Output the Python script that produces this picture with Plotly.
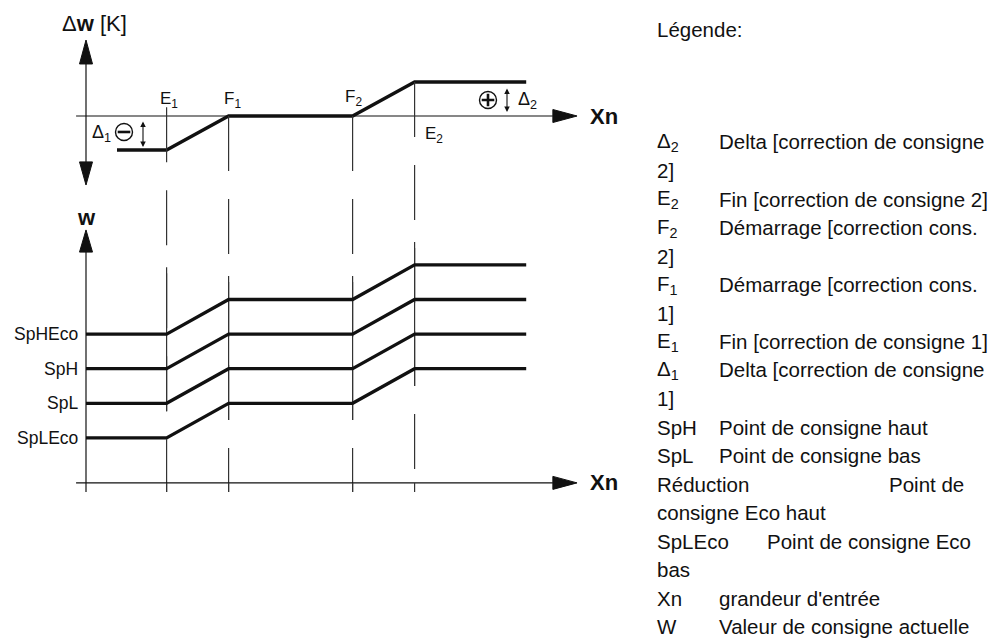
"""
Setpoint correction diagram (Δw / w versus Xn) with French legend.
"""

import plotly.graph_objects as go

# ── Data ──────────────────────────────────────────────────────────────────────

# characteristic points on the Xn axis
XN_E1, XN_F1, XN_F2, XN_E2 = 1.3, 2.3, 4.3, 5.3
XN_START_DW = 0.5     # where the Δw curve starts
XN_END = 7.1          # where all curves stop

# Δw correction curve (upper diagram)
dw_x = [XN_START_DW, XN_E1, XN_F1, XN_F2, XN_E2, XN_END]
dw_y = [-1, -1, 0, 0, 1, 1]

# setpoint curves (lower diagram): base level, +1 after F1, +2 after E2
sp_names = ["SpHEco", "SpH", "SpL", "SpLEco"]
sp_levels = [4, 3, 2, 1]
sp_x = [0, XN_E1, XN_F1, XN_F2, XN_E2, XN_END]
sp_offsets = [0, 0, 1, 1, 2, 2]

# vertical guide lines and their top end (Δw units)
guide_x = [XN_E1, XN_F1, XN_F2, XN_E2]
guide_top_dw = [0.26, 0, 0, 1.0]
guide_labels = ["E<sub>1</sub>", "F<sub>1</sub>", "F<sub>2</sub>", "E<sub>2</sub>"]

# legend text
legend_keys = [
    "Δ<sub>2</sub>", "2]", "E<sub>2</sub>", "F<sub>2</sub>", "2]",
    "F<sub>1</sub>", "1]", "E<sub>1</sub>", "Δ<sub>1</sub>", "1]",
    "SpH", "SpL", "Réduction", "consigne Eco haut", "SpLEco", "bas",
    "Xn", "W",
]
legend_desc = [
    "Delta [correction de consigne", "", "Fin [correction de consigne 2]",
    "Démarrage [correction cons.", "", "Démarrage [correction cons.", "",
    "Fin [correction de consigne 1]", "Delta [correction de consigne", "",
    "Point de consigne haut", "Point de consigne bas", "Point de", "",
    "Point de consigne Eco", "", "grandeur d'entrée",
    "Valeur de consigne actuelle",
]

# ── Geometry of the canvas ────────────────────────────────────────────────────

W_PX, H_PX = 1001, 641
X0_PX, PX_PER_XN = 86, 62
DW0_PX, PX_PER_DW = 116, 34
W0_PX, PX_PER_W = 472.5, 34.6

FONT = "Liberation Sans, Arial, sans-serif"
INK = "#111111"
THIN = "#333333"


def px_x(p):
    return (p - X0_PX) / PX_PER_XN


def dw_to_w(d):
    """Express a Δw value in lower-diagram (w) units."""
    return (W0_PX - (DW0_PX - PX_PER_DW * d)) / PX_PER_W


W_AXIS = -0.3           # level of the lower Xn axis
W_TICK = W_AXIS - 0.26  # bottom of the small ticks
AX_LEFT = -0.16
AX_ARROW_BASE, AX_ARROW_TIP = 7.53, 7.92

fig = go.Figure()


def line(x, y, width=1.2, color=THIN, yaxis="y", dash=None):
    fig.add_trace(go.Scatter(
        x=x, y=y, mode="lines", yaxis=yaxis, hoverinfo="skip",
        line=dict(color=color, width=width, dash=dash),
    ))


def tri(x, y, yaxis="y"):
    fig.add_trace(go.Scatter(
        x=x + [x[0]], y=y + [y[0]], mode="lines", fill="toself",
        fillcolor=INK, yaxis=yaxis, hoverinfo="skip",
        line=dict(color=INK, width=1),
    ))


# ── Guide lines (drawn first, under everything) ──────────────────────────────

for gx, top in zip(guide_x, guide_top_dw):
    top_w = dw_to_w(top)
    line([gx, gx], [top_w, W_TICK], yaxis="y2", dash="55px,28px")
    # third gap is filled in the original drawing
    line([gx, gx], [top_w - 160 / PX_PER_W, top_w - 304 / PX_PER_W], yaxis="y2")

# ── Upper diagram: Δw axis ────────────────────────────────────────────────────

hw = 6.5 / PX_PER_XN
line([0, 0], [2.1, -1.9], color=INK)
tri([-hw, hw, 0], [1.53, 1.53, 2.235])
tri([-hw, hw, 0], [-1.35, -1.35, -2.03])
line([AX_LEFT, AX_ARROW_BASE], [0, 0], color=INK)
hh = 6.5 / PX_PER_DW
tri([AX_ARROW_BASE, AX_ARROW_BASE, AX_ARROW_TIP], [hh, -hh, 0])

line(dw_x, dw_y, width=3.3, color=INK)

# ── Lower diagram: w axis ─────────────────────────────────────────────────────

line([0, 0], [6.6, W_TICK], color=INK, yaxis="y2")
hw2 = 6.5 / PX_PER_XN
tri([-hw2, hw2, 0], [6.37, 6.37, 7.01], yaxis="y2")
line([AX_LEFT, AX_ARROW_BASE], [W_AXIS, W_AXIS], color=INK, yaxis="y2")
hh2 = 6.5 / PX_PER_W
tri([AX_ARROW_BASE, AX_ARROW_BASE, AX_ARROW_TIP],
    [W_AXIS + hh2, W_AXIS - hh2, W_AXIS], yaxis="y2")
for gx in guide_x:
    line([gx, gx], [W_AXIS, W_TICK], color=THIN, yaxis="y2")

for name, lvl in zip(sp_names, sp_levels):
    line(sp_x, [lvl + o for o in sp_offsets], width=3.3, color=INK, yaxis="y2")

# ⊖ / ⊕ symbols
for cx, cy, sym in [(px_x(124), -0.47, "line-ew"), (px_x(488), 0.47, "cross-thin")]:
    fig.add_trace(go.Scatter(
        x=[cx], y=[cy], mode="markers", hoverinfo="skip",
        marker=dict(symbol="circle-open", size=17, color=INK, line=dict(width=1.4, color=INK)),
    ))
    fig.add_trace(go.Scatter(
        x=[cx], y=[cy], mode="markers", hoverinfo="skip",
        marker=dict(symbol=sym, size=9, color=INK, line=dict(width=2.6, color=INK)),
    ))

# ── Annotations ───────────────────────────────────────────────────────────────

ann = []


def text(x, y, s, size=17, yref="y", xanchor="center", bold=False, xref="x"):
    ann.append(dict(
        x=x, y=y, xref=xref, yref=yref, text=f"<b>{s}</b>" if bold else s,
        showarrow=False, xanchor=xanchor, yanchor="middle",
        font=dict(family=FONT, size=size, color=INK),
    ))


text(px_x(94), (DW0_PX - 23) / PX_PER_DW, "Δ<b>w</b> [K]", size=22)
text(0, (W0_PX - 217) / PX_PER_W, "w", size=22, yref="y2", bold=True)
text(px_x(588), 0, "Xn", size=22, xanchor="left", bold=True)
text(px_x(588), W_AXIS, "Xn", size=22, yref="y2", xanchor="left", bold=True)

label_pos = [(px_x(169), 0.47), (px_x(232), 0.47), (px_x(353), 0.53), (px_x(434), -0.56)]
for lab, (lx, ly) in zip(guide_labels, label_pos):
    text(lx, ly, lab, size=17)

text(px_x(101), -0.5, "Δ<sub>1</sub>", size=18)
text(px_x(527), 0.47, "Δ<sub>2</sub>", size=18)

for name, lvl in zip(sp_names, sp_levels):
    text(px_x(80), lvl, name, size=17.5, yref="y2", xanchor="right")

# small double arrows for Δ1 / Δ2
for ax_x, y_a, y_b in [(px_x(143), -0.12, -0.91), (px_x(507), 0.85, 0.12)]:
    ann.append(dict(
        x=ax_x, y=y_b, ax=ax_x, ay=y_a, xref="x", yref="y", axref="x", ayref="y",
        text="", showarrow=True, arrowhead=2, startarrowhead=2, arrowside="end+start",
        arrowsize=1, startarrowsize=1, arrowwidth=1.1, arrowcolor=INK,
    ))

# legend block
LEG_KEY_X, LEG_DESC_X = 655, 717
desc_x_override = {12: 887, 14: 765}
text(LEG_KEY_X / W_PX, 1 - 30 / H_PX, "Légende:", size=20.5, xref="paper", yref="paper", xanchor="left")
ROW0, ROW_STEP = 142, 28.5
for i, (k, d) in enumerate(zip(legend_keys, legend_desc)):
    yy = 1 - (ROW0 + i * ROW_STEP) / H_PX
    text(LEG_KEY_X / W_PX, yy, k, size=20.5, xref="paper", yref="paper", xanchor="left")
    if d:
        dx = desc_x_override.get(i, LEG_DESC_X)
        text(dx / W_PX, yy, d, size=20.5, xref="paper", yref="paper", xanchor="left")

# ── Layout ────────────────────────────────────────────────────────────────────

fig.update_layout(
    width=W_PX, height=H_PX,
    margin=dict(l=0, r=0, t=0, b=0),
    paper_bgcolor="white", plot_bgcolor="white",
    showlegend=False,
    xaxis=dict(range=[px_x(0), px_x(W_PX)], visible=False, fixedrange=True),
    yaxis=dict(range=[(DW0_PX - H_PX) / PX_PER_DW, DW0_PX / PX_PER_DW],
               visible=False, fixedrange=True),
    yaxis2=dict(range=[(W0_PX - H_PX) / PX_PER_W, W0_PX / PX_PER_W],
                overlaying="y", visible=False, fixedrange=True),
    annotations=ann,
)

fig.write_html("out.html", config={"displayModeBar": False},
               post_script="document.body.style.margin='0';")
